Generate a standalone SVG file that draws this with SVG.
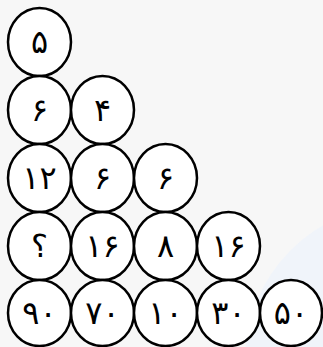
<svg xmlns="http://www.w3.org/2000/svg" width="323" height="347" viewBox="0 0 323 347">
<style>
.n ellipse{fill:#fff;stroke:#000;stroke-width:2.5}
.n text{font-family:"DejaVu Sans",sans-serif;font-size:32px;text-anchor:middle;dominant-baseline:central;fill:#000}
</style>
<rect width="323" height="347" fill="#f7f7f7"/>
<circle cx="400" cy="360" r="155" fill="#f0f4fa"/>
<g id="connectors"/>
<g id="r1c1" class="n"><ellipse cx="39.5" cy="42" rx="31.5" ry="34"/><text x="39.5" y="42">۵</text></g>
<g id="r2c1" class="n"><ellipse cx="39.5" cy="110" rx="31.5" ry="34"/><text x="39.5" y="110">۶</text></g>
<g id="r2c2" class="n"><ellipse cx="102.5" cy="110" rx="31.5" ry="34"/><text x="102.5" y="110">۴</text></g>
<g id="r3c1" class="n"><ellipse cx="39.5" cy="178" rx="31.5" ry="34"/><text x="39.5" y="178">۱۲</text></g>
<g id="r3c2" class="n"><ellipse cx="102.5" cy="178" rx="31.5" ry="34"/><text x="102.5" y="178">۶</text></g>
<g id="r3c3" class="n"><ellipse cx="165.5" cy="178" rx="31.5" ry="34"/><text x="165.5" y="178">۶</text></g>
<g id="r4c1" class="n"><ellipse cx="39.5" cy="246" rx="31.5" ry="34"/><text x="39.5" y="246">؟</text></g>
<g id="r4c2" class="n"><ellipse cx="102.5" cy="246" rx="31.5" ry="34"/><text x="102.5" y="246">۱۶</text></g>
<g id="r4c3" class="n"><ellipse cx="165.5" cy="246" rx="31.5" ry="34"/><text x="165.5" y="246">۸</text></g>
<g id="r4c4" class="n"><ellipse cx="228.5" cy="246" rx="31.5" ry="34"/><text x="228.5" y="246">۱۶</text></g>
<g id="r5c1" class="n"><ellipse cx="39.5" cy="313" rx="31.5" ry="33"/><text x="39.5" y="313">۹۰</text></g>
<g id="r5c2" class="n"><ellipse cx="102.5" cy="313" rx="31.5" ry="33"/><text x="102.5" y="313">۷۰</text></g>
<g id="r5c3" class="n"><ellipse cx="165.5" cy="313" rx="31.5" ry="33"/><text x="165.5" y="313">۱۰</text></g>
<g id="r5c4" class="n"><ellipse cx="228.5" cy="313" rx="31.5" ry="33"/><text x="228.5" y="313">۳۰</text></g>
<g id="r5c5" class="n"><ellipse cx="291" cy="313" rx="31" ry="33"/><text x="291" y="313">۵۰</text></g>
</svg>
